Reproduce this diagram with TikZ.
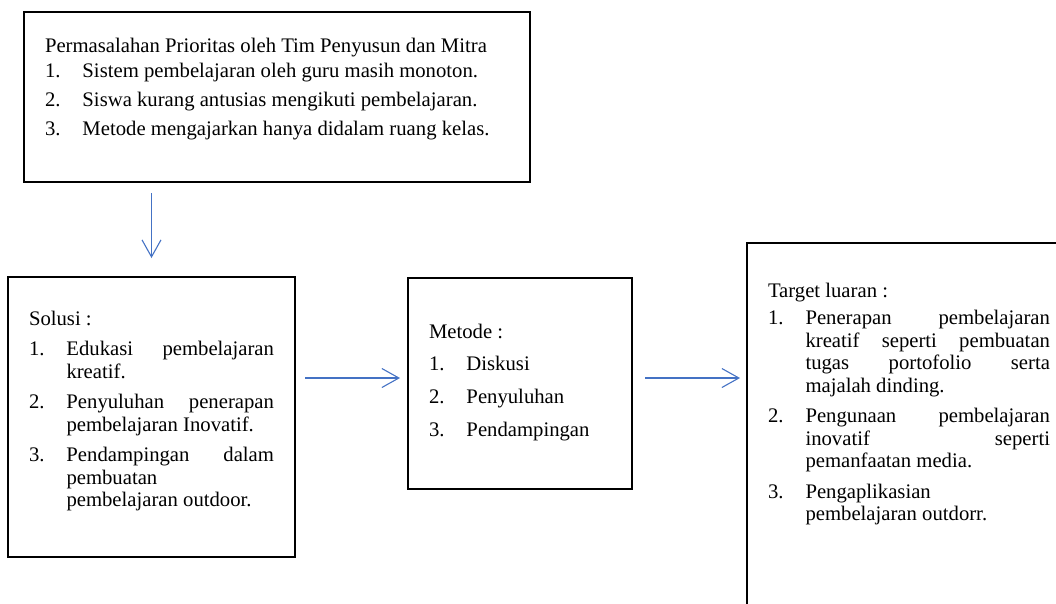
\documentclass[tikz,border=0pt]{standalone}
\definecolor{flowblue}{RGB}{68, 114, 196}
\usepackage{fontspec}
\setmainfont{Liberation Serif}
\usepackage{tikz}
\usetikzlibrary{arrows.meta, positioning, calc}
\tolerance=10000
\hbadness=10000
\hyphenpenalty=10000
% numbered entry with hanging indent
\newcommand{\entry}[3][8pt]{\par\vspace{#1}\hangindent=37.5pt\hangafter=1\noindent\makebox[37.5pt][l]{#2}#3\par}

\begin{document}
\begin{tikzpicture}[x=1pt, y=-1pt,
  box/.style={draw, line width=1.4pt, anchor=north west, outer sep=0pt, inner xsep=21pt,
    align=justify, text height=15pt, font=\fontsize{20.7}{22.5}\selectfont},
  flow/.style={-{Straight Barb[length=17pt, width=19pt]}, flowblue, line width=1.1pt}]
\useasboundingbox (0,0) rectangle (1056,603);
\clip (0,0) rectangle (1056,603);
% Problems
\node[box, text width=464pt, inner ysep=25pt, text depth=105pt, font=\fontsize{20.7}{23}\selectfont] (masalah) at (24,12)
  {Permasalahan Prioritas oleh Tim Penyusun dan Mitra
   \entry[2pt]{1.}{Sistem pembelajaran oleh guru masih monoton.}
   \entry[6pt]{2.}{Siswa kurang antusias mengikuti pembelajaran.}
   \entry[6pt]{3.}{Metode mengajarkan hanya didalam ruang kelas.}};
% Solutions
\node[box, text width=245pt, inner ysep=33pt, text depth=199pt] (solusi) at (8,277)
  {Solusi :
   \entry{1.}{Edukasi pembelajaran\linebreak kreatif.}
   \entry{2.}{Penyuluhan penerapan\linebreak pembelajaran Inovatif.}
   \entry{3.}{Pendampingan dalam\linebreak pembuatan\linebreak pembelajaran outdoor.}};
% Methods
\node[box, text width=182pt, inner ysep=45pt, text depth=106pt, font=\fontsize{20.7}{32.7}\selectfont] (metode) at (408,278)
  {Metode :
   \entry[0pt]{1.}{Diskusi}
   \entry[0pt]{2.}{Penyuluhan}
   \entry[0pt]{3.}{Pendampingan}};
% Targets
\node[box, text width=282pt, inner ysep=39pt, text depth=330pt] (target) at (747,243)
  {Target luaran :
   \entry[5pt]{1.}{Penerapan pembelajaran\linebreak kreatif seperti pembuatan\linebreak tugas portofolio serta\linebreak majalah dinding.}
   \entry{2.}{Pengunaan pembelajaran\linebreak inovatif seperti\linebreak pemanfaatan media.}
   \entry{3.}{Pengaplikasian\linebreak pembelajaran outdorr.}};
% Arrows
\draw[flow, shorten <=11pt, shorten >=19pt] (masalah.south -| solusi.north) -- (solusi.north);
\draw[flow, shorten <=10pt, shorten >=8pt] ($(metode.west -| solusi.east)+(0,-5.5)$) -- ($(metode.west)+(0,-5.5)$);
\draw[flow, shorten <=13pt, shorten >=7pt] ($(metode.east)+(0,-5.5)$) -- ($(metode.east -| target.west)+(0,-5.5)$);
\end{tikzpicture}
\end{document}
